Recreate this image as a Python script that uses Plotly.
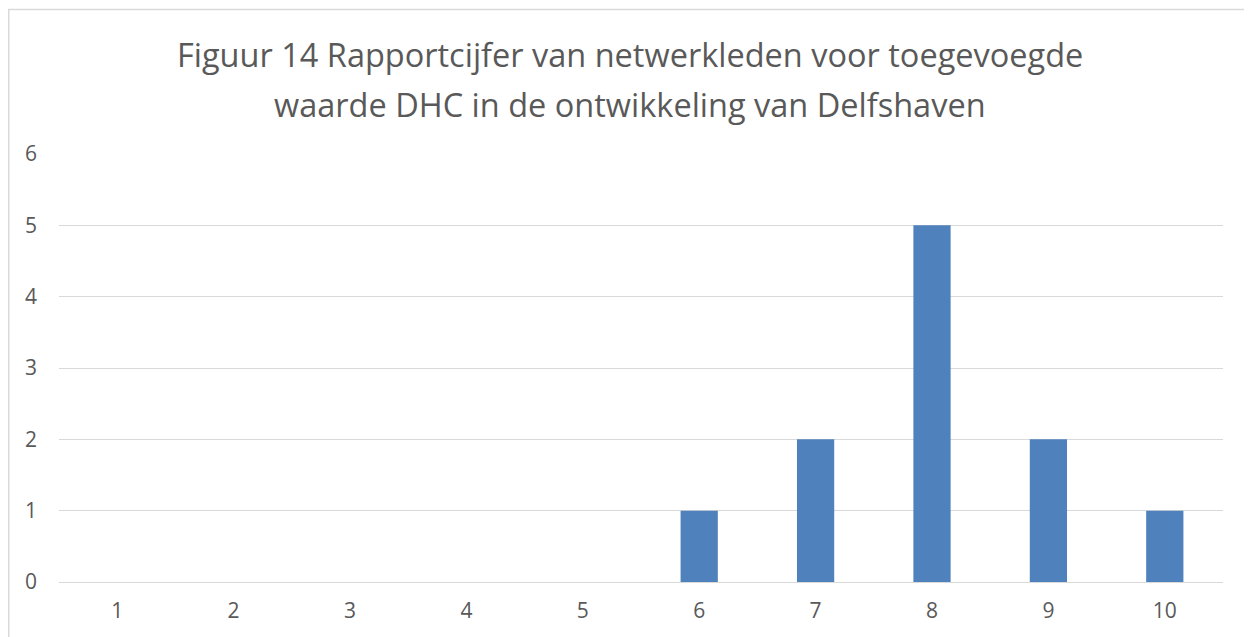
import plotly.graph_objects as go

# rapportcijfers en aantal netwerkleden
cijfers = ["1", "2", "3", "4", "5", "6", "7", "8", "9", "10"]
aantallen = [0, 0, 0, 0, 0, 1, 2, 5, 2, 1]
y_ticks = [0, 1, 2, 3, 4, 5, 6]

titel_regels = ["Figuur 14 Rapportcijfer van netwerkleden voor toegevoegde",
                "waarde DHC in de ontwikkeling van Delfshaven"]

W, H = 1244, 629  # pagina heeft 8px body-marge

fig = go.Figure()
fig.add_trace(go.Bar(x=cijfers, y=aantallen,
                     marker=dict(color="#4F81BD", line=dict(width=0))))

fig.update_layout(
    width=W, height=H,
    margin=dict(l=51, r=29, t=146, b=55),
    paper_bgcolor="white", plot_bgcolor="white",
    font=dict(family="Open Sans", color="#595959"),
    bargap=0.68,
    showlegend=False,
)

# titel als twee regels met ruimere regelafstand (zoals in Excel)
for regel, ypos in zip(titel_regels, [1.2336, 1.1145]):
    fig.add_annotation(text=regel, xref="paper", yref="paper",
                       x=0.4905, y=ypos, xanchor="center", yanchor="middle",
                       showarrow=False,
                       font=dict(size=32.5, color="#595959"))

fig.update_xaxes(type="category", showgrid=False, zeroline=False,
                 showline=False, ticks="", tickfont=dict(size=21),
                 ticklabelstandoff=14)
fig.update_yaxes(range=[0, 6], tickvals=y_ticks, showgrid=True,
                 gridcolor="#D9D9D9", gridwidth=1.3, zeroline=True,
                 zerolinecolor="#D9D9D9", zerolinewidth=1.3,
                 showline=False, ticks="", tickfont=dict(size=21),
                 ticklabelstandoff=21)

# kader om de grafiek (alleen links en boven zichtbaar)
fig.add_shape(type="rect", xref="paper", yref="paper",
              x0=(0.75 - 51) / 1164, x1=1.1, y0=-0.3, y1=(574 - 1.5) / 428,
              line=dict(color="#D9D9D9", width=1.5), layer="below")

fig.write_html("out.html")
